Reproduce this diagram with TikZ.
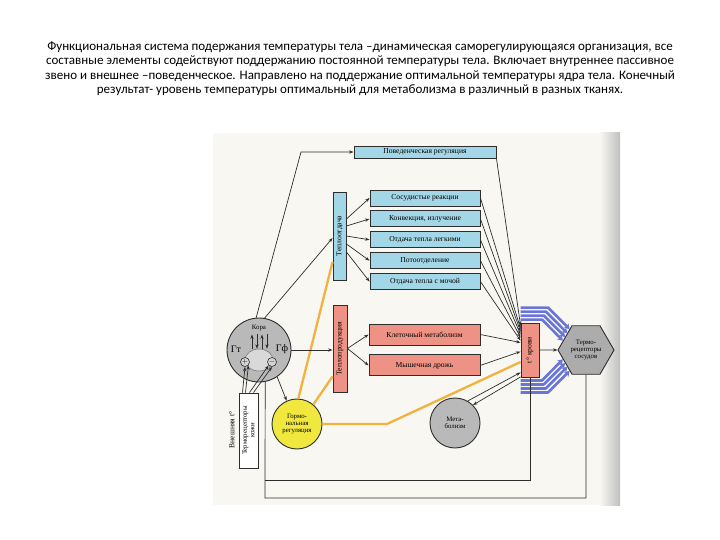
\documentclass[tikz,border=0pt]{standalone}
\usepackage{fontspec}
\setmainfont{Liberation Serif}
\newfontfamily\titlefont{Carlito}
\newfontfamily\figfont{Liberation Serif}
\usetikzlibrary{arrows, arrows.meta, positioning, shapes.geometric, calc}

\definecolor{scanbg}{RGB}{248,247,242}
\definecolor{boxblue}{RGB}{163,214,230}
\definecolor{boxred}{RGB}{238,146,134}
\definecolor{lineclr}{RGB}{45,45,45}
\definecolor{orgray}{RGB}{185,185,185}
\definecolor{hexgray}{RGB}{172,172,172}
\definecolor{hormyel}{RGB}{240,232,62}
\definecolor{bandblue}{RGB}{105,118,215}
\definecolor{orangeln}{RGB}{242,178,64}

\newcommand{\diagsize}{\figfont\fontsize{7.6}{8}\selectfont}
\newcommand{\smallsize}{\figfont\fontsize{6.8}{7.4}\selectfont}

\begin{document}
\begin{tikzpicture}[x=1pt, y=-1pt, >={Stealth[length=4.5pt,width=3.2pt]},
  box/.style={draw=lineclr, line width=0.9pt, inner sep=1pt, font=\diagsize},
  bluebox/.style={box, fill=boxblue, minimum width=110pt, minimum height=16pt},
  redbox/.style={box, fill=boxred, minimum width=111pt, minimum height=21pt},
  vlabel/.style={rotate=90, font=\diagsize, align=center},
  ball/.style={circle, draw=lineclr, line width=0.9pt, inner sep=0pt, font=\smallsize, align=center},
  link/.style={lineclr, line width=0.7pt},
  hormln/.style={orangeln, line width=2.3pt},
  bandarr/.style={bandblue, line width=2.6pt, line join=round, -{Stealth[length=5pt,width=6.5pt]}}]

  \useasboundingbox (0,0) rectangle (720,540);

  % title
  \node[font=\titlefont\fontsize{13}{14.5}\selectfont, align=center, anchor=north] (title) at (360,38)
    {Функциональная система подержания температуры тела –динамическая саморегулирующаяся организация, все\\
     составные элементы содействуют поддержанию постоянной температуры тела. Включает внутреннее пассивное\\
     звено и внешнее –поведенческое. Направлено на поддержание оптимальной температуры ядра тела. Конечный\\
     результат- уровень температуры оптимальный для метаболизма в различный в разных тканях.};

  % scanned sheet
  \fill[scanbg] (213,133) rectangle (620,505);
  \shade[left color=scanbg, right color=black!25] (600,133) rectangle (620,505);

  % heat loss side
  \node[bluebox, minimum width=142pt, minimum height=12pt] (povreg) at (425,152) {Поведенческая регуляция};
  \node[bluebox] (sos) at (425,198) {Сосудистые реакции};
  \node[bluebox, below=4pt of sos] (konv) {Конвекция, излучение};
  \node[bluebox, below=4pt of konv] (legk) {Отдача тепла легкими};
  \node[bluebox, below=4pt of legk] (pot) {Потоотделение};
  \node[bluebox, below=4pt of pot] (moch) {Отдача тепла с мочой};
  \node[box, fill=boxblue, minimum width=13pt, minimum height=88pt,
        label={[vlabel]center:Теплоотдача}] (teplootd) at (339.5,236) {};

  % heat production side
  \node[box, fill=boxred, minimum width=14pt, minimum height=87pt,
        label={[vlabel]center:Теплопродукция}] (teploprod) at (340,348.5) {};
  \node[redbox] (kletmet) at (424.5,334.5) {Клеточный метаболизм};
  \node[redbox, below=9pt of kletmet] (myshdr) {Мышечная дрожь};

  \node[box, fill=boxred, minimum width=18pt, minimum height=54pt,
        label={[vlabel]center:t° крови}] (tkrovi) at (530,350) {};
  \node[regular polygon, regular polygon sides=6, draw=lineclr, line width=0.9pt, fill=hexgray,
        minimum size=56pt, inner sep=0pt, font=\smallsize, align=center] (termsos) at (586,350)
        {Термо-\\рецепторы\\сосудов};

  % centres
  \node[ball, fill=orgray, minimum size=64pt] (kora) at (259,350) {};
  \node[font=\smallsize] (koratxt) at (259,328) {Кора};
  \node[font=\figfont\fontsize{10}{11}\selectfont] (gt) at (236,349) {Гт};
  \node[font=\figfont\fontsize{10}{11}\selectfont] (gf) at (282,349) {Гф};
  \node[ellipse, draw=lineclr!70, line width=0.5pt, fill=orgray!55, minimum width=28pt,
        minimum height=22pt, inner sep=0pt] (hypo) at (259,360) {};
  \node[ball, fill=orgray!60, minimum size=9pt, line width=0.6pt] (plus) at (245,362) {$+$};
  \node[ball, fill=orgray!60, minimum size=9pt, line width=0.6pt] (minus) at (272,362) {$-$};

  \node[ball, fill=hormyel, minimum size=50pt] (gorm) at (297,424) {Гормо-\\нальная\\регуляция};
  \node[ball, fill=orgray, minimum size=50pt] (metab) at (455,423) {Мета-\\болизм};

  \node[box, fill=white, minimum width=19pt, minimum height=75pt,
        label={[vlabel, font=\smallsize]center:Терморецепторы\\кожи}] (termkozhi) at (248.5,430.5) {};
  \node[vlabel] (vnesh) at (232,430) {Внешняя t°};

  % hormonal paths
  \coordinate (bendhorm) at (387,424);
  \draw[hormln] (gorm.87) -- ([yshift=-26pt]teplootd.west);
  \draw[hormln] (gorm.50) -- ([yshift=-28pt]teploprod.west);
  \draw[hormln] (gorm.east) -- (bendhorm) -- ([yshift=-12pt]tkrovi.west);

  % nervous paths
  \coordinate (bendpov) at (301,152);
  \draw[link, ->] (kora.95) -- (bendpov) -- (povreg.west);
  \draw[link, ->] (kora.80) -- ([yshift=-2pt]teplootd.west);
  \draw[link, ->] (kora.east) -- (kora.east -| teploprod.west);
  \draw[link, ->] (kora.304) -- (gorm.114);
  \foreach \dx in {-7,3}
    \draw[link, ->] ([xshift=\dx pt]hypo.north) -- ([xshift=\dx pt]koratxt.south);
  \foreach \dx in {-2,8}
    \draw[link, <-] ([xshift=\dx pt]hypo.north) -- ([xshift=\dx pt]koratxt.south);

  \foreach \b/\s in {sos/17, konv/10, legk/0, pot/-8, moch/-16}
    \draw[link, ->] ([yshift=\s pt]teplootd.east) -- (\b.west);
  \draw[link, ->] (teploprod.east) -- (kletmet.west);
  \draw[link, ->] (teploprod.east) -- (myshdr.west);

  % to blood temperature
  \foreach \b/\s in {povreg.south east/-3, sos.east/-6, konv.east/-9, legk.east/-12, pot.east/-15, moch.east/-18}
    \draw[link, ->] (\b) -- ([yshift=\s pt]tkrovi.north west);
  \draw[link, ->] (kletmet.east) -- ([yshift=-20pt]tkrovi.north west);
  \draw[link, ->] (myshdr.east) -- ([yshift=-29pt]tkrovi.north west);
  \draw[link, ->] (metab.60) -- ([yshift=5pt]tkrovi.south west);
  \draw[link, ->] ([yshift=0.5pt]tkrovi.south west) -- (metab.45);
  \draw[link, ->] (tkrovi.east) -- (termsos.west);

  % blood flow
  \foreach \s/\d/\a in {15/27.5/128, 11/25.2/138, 7/23.3/148, 3/21.5/158}
    \draw[bandarr] ([yshift=\s pt]tkrovi.north west) -- ++(\d,0) -- (termsos.\a);
  \foreach \s/\d/\a in {-3/21.5/202, -7/23.3/212, -11/25.2/222, -15/27.5/232}
    \draw[bandarr] ([yshift=\s pt]tkrovi.south west) -- ++(\d,0) -- (termsos.\a);

  % skin receptors
  \draw[link, ->] ([xshift=-6pt]termkozhi.north) -- (plus.south);
  \draw[link, ->] ([xshift=-3pt]termkozhi.north) -- (plus.south east);
  \draw[link, ->] ([xshift=1pt]termkozhi.north) -- (minus.south west);
  \draw[link, ->] ([xshift=5pt]termkozhi.north) -- (minus.south);

  % feedback loops
  \coordinate (loopout) at (265,498);
  \coordinate (loopin) at (265,480);
  \draw[link] (termsos.south) |- (loopout) -- (kora.281);
  \draw[link] (tkrovi.south) |- (loopin);
\end{tikzpicture}
\end{document}
